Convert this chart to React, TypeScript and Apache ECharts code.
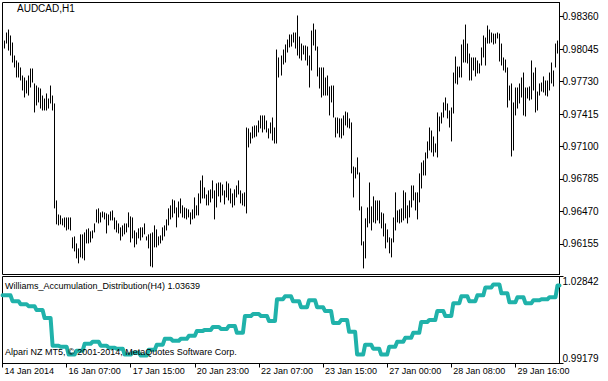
import React, { useEffect, useRef } from "react";
import * as echarts from "echarts";

// H1 bar highs / lows (AUDCAD), one entry per hourly bar
const barHigh = [
  0.98127,0.98205,0.98234,0.98176,0.98108,0.97982,0.97934,0.97914,0.97866,0.97788,
  0.97769,0.97740,0.97788,0.97856,0.97856,0.97711,0.97691,0.97672,0.97662,0.97594,
  0.97565,0.97614,0.97565,0.97691,0.97594,0.97517,0.96577,0.96441,0.96432,0.96403,
  0.96412,0.96412,0.96412,0.96412,0.96219,0.96228,0.96160,0.96112,0.96248,0.96248,
  0.96267,0.96296,0.96306,0.96277,0.96286,0.96354,0.96490,0.96500,0.96461,0.96470,
  0.96461,0.96451,0.96441,0.96470,0.96480,0.96412,0.96383,0.96354,0.96316,0.96335,
  0.96354,0.96354,0.96461,0.96422,0.96412,0.96286,0.96267,0.96306,0.96316,0.96316,
  0.96354,0.96228,0.96248,0.96257,0.96267,0.96335,0.96296,0.96228,0.96238,0.96316,
  0.96335,0.96393,0.96500,0.96529,0.96587,0.96577,0.96509,0.96567,0.96596,0.96529,
  0.96509,0.96500,0.96490,0.96461,0.96490,0.96606,0.96529,0.96645,0.96771,0.96819,
  0.96703,0.96635,0.96674,0.96684,0.96771,0.96674,0.96742,0.96751,0.96751,0.96732,
  0.96674,0.96761,0.96742,0.96693,0.96645,0.96684,0.96722,0.96771,0.96674,0.96645,
  0.96655,0.97284,0.97275,0.97236,0.97294,0.97304,0.97304,0.97352,0.97401,0.97401,
  0.97401,0.97352,0.97275,0.97333,0.97381,0.97284,0.98040,0.97963,0.97982,0.98040,
  0.98089,0.98137,0.98186,0.98186,0.98205,0.98205,0.98370,0.98166,0.98098,0.98079,
  0.98079,0.98069,0.97982,0.98224,0.98292,0.98234,0.98069,0.97866,0.97866,0.97866,
  0.97769,0.97788,0.97682,0.97691,0.97691,0.97381,0.97381,0.97372,0.97372,0.97401,
  0.97439,0.97430,0.97372,0.97333,0.96906,0.96897,0.96994,0.96848,0.96519,0.96180,
  0.96403,0.96509,0.96751,0.96519,0.96616,0.96577,0.96577,0.96577,0.96461,0.96451,
  0.96354,0.96296,0.96219,0.96209,0.96412,0.96655,0.96480,0.96490,0.96500,0.96674,
  0.96655,0.96529,0.96577,0.96722,0.96722,0.96655,0.96655,0.96839,0.96945,0.96965,
  0.97042,0.97149,0.97284,0.97255,0.97197,0.97129,0.97430,0.97391,0.97430,0.97527,
  0.97575,0.97517,0.97449,0.97478,0.97817,0.97972,0.97875,0.97875,0.98089,0.98137,
  0.98282,0.98098,0.98001,0.97963,0.97963,0.97963,0.97934,0.97905,0.98060,0.98176,
  0.98156,0.98273,0.98234,0.98205,0.98195,0.98195,0.98205,0.98195,0.98098,0.97963,
  0.97943,0.97866,0.97691,0.97711,0.97527,0.97672,0.97672,0.97711,0.97769,0.97817,
  0.97672,0.97672,0.97682,0.97934,0.97817,0.97866,0.97633,0.97711,0.97720,0.97779,
  0.97740,0.97740,0.97817,0.97914,0.97837,0.98098,0.98127,0.98311,
];

const barLow = [
  0.98050,0.98098,0.98030,0.97982,0.97914,0.97866,0.97769,0.97769,0.97740,0.97643,
  0.97575,0.97614,0.97594,0.97672,0.97720,0.97430,0.97498,0.97527,0.97468,0.97449,
  0.97449,0.97449,0.97468,0.97517,0.97449,0.96500,0.96345,0.96335,0.96345,0.96335,
  0.96316,0.96286,0.96296,0.96286,0.96112,0.96083,0.96015,0.95967,0.96025,0.96015,
  0.95996,0.96160,0.96160,0.96170,0.96209,0.96267,0.96364,0.96354,0.96364,0.96412,
  0.96393,0.96257,0.96335,0.96383,0.96383,0.96296,0.96267,0.96257,0.96189,0.96228,
  0.96248,0.96267,0.96316,0.96170,0.96209,0.96122,0.96151,0.96209,0.96189,0.96219,
  0.96248,0.96189,0.96112,0.95938,0.95928,0.96122,0.96122,0.96141,0.96160,0.96189,
  0.96228,0.96286,0.96335,0.96393,0.96412,0.96451,0.96316,0.96412,0.96451,0.96412,
  0.96403,0.96393,0.96412,0.96345,0.96393,0.96403,0.96432,0.96432,0.96548,0.96596,
  0.96596,0.96529,0.96529,0.96558,0.96596,0.96393,0.96509,0.96616,0.96558,0.96625,
  0.96538,0.96606,0.96577,0.96548,0.96509,0.96529,0.96606,0.96635,0.96548,0.96529,
  0.96519,0.96451,0.97091,0.97129,0.97178,0.97188,0.97197,0.97236,0.97275,0.97236,
  0.97265,0.97236,0.97178,0.97226,0.97158,0.97129,0.97129,0.97769,0.97788,0.97895,
  0.97914,0.98011,0.98060,0.98069,0.98108,0.98050,0.97982,0.97953,0.97934,0.97992,
  0.97934,0.97885,0.97672,0.97837,0.98079,0.98030,0.97779,0.97662,0.97575,0.97594,
  0.97594,0.97594,0.97401,0.97527,0.97381,0.97188,0.97226,0.97188,0.97178,0.97207,
  0.97304,0.97284,0.97275,0.96839,0.96606,0.96790,0.96829,0.96480,0.96141,0.95918,
  0.96015,0.96316,0.96354,0.96286,0.96364,0.96354,0.96383,0.96354,0.96306,0.96228,
  0.96112,0.96170,0.96064,0.96025,0.96170,0.96286,0.96364,0.96354,0.96364,0.96383,
  0.96403,0.96354,0.96412,0.96509,0.96577,0.96480,0.96393,0.96558,0.96693,0.96819,
  0.96819,0.96984,0.97061,0.97042,0.97003,0.97042,0.96994,0.97246,0.97323,0.97381,
  0.97449,0.97372,0.97284,0.97149,0.97420,0.97711,0.97701,0.97769,0.97769,0.97914,
  0.97914,0.97905,0.97740,0.97740,0.97837,0.97779,0.97808,0.97808,0.97885,0.97963,
  0.97885,0.98098,0.98098,0.98108,0.98089,0.98098,0.98147,0.97924,0.97885,0.97837,
  0.97817,0.97478,0.97546,0.97003,0.97061,0.97401,0.97468,0.97517,0.97575,0.97401,
  0.97391,0.97565,0.97546,0.97556,0.97643,0.97430,0.97449,0.97594,0.97633,0.97624,
  0.97594,0.97585,0.97643,0.97711,0.97682,0.97866,0.98001,0.98098,
];

// Williams A/D computed on H4, one value per 4 hourly bars
const adH4 = [
  1.02051,1.01801,1.01676,1.01593,1.01427,1.01094,0.99928,0.99886,0.99553,0.99720,
  1.00011,1.00094,0.99928,0.99845,0.99803,0.99553,0.99636,0.99512,0.99761,0.99970,
  1.00219,1.00136,1.00219,1.00344,1.00552,1.00594,1.00719,1.00636,1.00760,1.00469,
  1.01177,1.01260,1.01177,1.00969,1.01885,1.02009,1.01801,1.01551,1.01843,1.01551,
  1.01385,1.00885,1.01010,1.00511,0.99553,0.99970,0.99803,0.99553,0.99886,1.00094,
  1.00261,1.00469,1.00927,1.01010,1.01385,1.01177,1.01718,1.02009,1.01801,1.02051,
  1.02384,1.02509,1.02134,1.01760,1.01968,1.01718,1.01843,1.01885,1.01968,1.02467,
];

const priceTicks = [0.96155, 0.9647, 0.96785, 0.971, 0.97415, 0.9773, 0.98045, 0.9836];
const priceMin = 0.95859;
const priceMax = 0.98496;
const adMax = 1.02842;
const adMin = 0.99179;

const xTickIndex = [0, 32, 64, 96, 128, 160, 192, 224, 256];
const xTickLabels = [
  "14 Jan 2014", "16 Jan 07:00", "17 Jan 15:00", "20 Jan 23:00", "22 Jan 07:00",
  "23 Jan 15:00", "27 Jan 00:00", "28 Jan 08:00", "29 Jan 16:00",
];

const FONT = "Liberation Sans";

export default function App() {
  const ref = useRef<HTMLDivElement>(null);

  useEffect(() => {
    if (!ref.current) return;
    const chart = echarts.init(ref.current, null, { renderer: "svg" });

    const nCat = barHigh.length + 1;
    const categories: string[] = [];
    for (let j = 0; j < nCat; j++) {
      const t = xTickIndex.indexOf(j);
      categories.push(t >= 0 ? xTickLabels[t] : "c" + j);
    }
    const isTick = (idx: number) => xTickIndex.indexOf(idx) >= 0;

    const barData = barHigh.map((h, i) => [i + 1, h, barLow[i]]);
    const adLine: number[] = [];
    for (let j = 0; j < nCat; j++) {
      const i = Math.max(0, j - 1);
      adLine.push(adH4[Math.floor(i / 4)]);
    }

    const option: any = {
      animation: false,
      backgroundColor: "#fff",
      textStyle: { fontFamily: FONT },
      grid: [
        { left: 2.5, right: 48.5, top: 2.5, height: 272, show: true, borderColor: "#000", borderWidth: 1 },
        { left: 2.5, right: 48.5, top: 276.5, height: 87, show: true, borderColor: "#000", borderWidth: 1 },
      ],
      xAxis: [
        {
          gridIndex: 0, type: "category", data: categories, boundaryGap: false,
          axisLine: { show: false }, axisTick: { show: false }, axisLabel: { show: false },
          splitLine: { show: false },
        },
        {
          gridIndex: 1, type: "category", data: categories, boundaryGap: false,
          axisLine: { show: true, lineStyle: { color: "#000" } },
          axisTick: { show: true, length: 4, interval: (idx: number) => isTick(idx), lineStyle: { color: "#000" } },
          axisLabel: {
            show: true, interval: (idx: number) => isTick(idx), align: "left",
            fontSize: 9, fontFamily: FONT, color: "#000", margin: 3, padding: [0, 0, 0, 2],
          },
          splitLine: { show: false },
        },
      ],
      yAxis: [
        {
          gridIndex: 0, type: "value", position: "right", min: priceMin, max: priceMax,
          axisLine: { show: true, lineStyle: { color: "#000" } },
          axisTick: { show: true, length: 4, customValues: priceTicks, lineStyle: { color: "#000" } },
          axisLabel: {
            customValues: priceTicks, formatter: (v: number) => v.toFixed(5),
            fontSize: 10, fontFamily: FONT, color: "#000", margin: 3,
          },
          splitLine: { show: false },
        },
        {
          gridIndex: 1, type: "value", position: "right", min: adMin, max: adMax,
          axisLine: { show: true, lineStyle: { color: "#000" } },
          axisTick: { show: true, length: 4, customValues: [adMax], lineStyle: { color: "#000" } },
          axisLabel: {
            customValues: [adMax], formatter: (v: number) => v.toFixed(5), verticalAlign: "top",
            fontSize: 10, fontFamily: FONT, color: "#000", margin: 3,
          },
          splitLine: { show: false },
        },
        {
          gridIndex: 1, type: "value", position: "right", min: adMin, max: adMax,
          axisLine: { show: false },
          axisTick: { show: true, length: 4, customValues: [adMin], lineStyle: { color: "#000" } },
          axisLabel: {
            customValues: [adMin], formatter: (v: number) => v.toFixed(5), verticalAlign: "bottom",
            fontSize: 10, fontFamily: FONT, color: "#000", margin: 3,
          },
          splitLine: { show: false },
        },
      ],
      graphic: [
        { type: "text", x: 17, y: 8, silent: true, style: { text: "AUDCAD,H1", fontSize: 10, fontFamily: FONT, fill: "#000", verticalAlign: "middle" } },
        { type: "text", x: 5, y: 285.5, silent: true, z: 10, style: { text: "Williams_Accumulation_Distribution(H4) 1.03639", fontSize: 9, fontFamily: FONT, fill: "#000", verticalAlign: "middle" } },
        { type: "text", x: 5, y: 352, silent: true, z: 10, style: { text: "Alpari NZ MT5, © 2001-2014, MetaQuotes Software Corp.", fontSize: 9, fontFamily: FONT, fill: "#000", verticalAlign: "middle" } },
      ],
      series: [
        {
          type: "custom", xAxisIndex: 0, yAxisIndex: 0, clip: true, silent: true,
          encode: { x: 0, y: [1, 2] },
          data: barData,
          renderItem: (params: any, api: any) => {
            const x = api.value(0);
            const p1 = api.coord([x, api.value(1)]);
            const p2 = api.coord([x, api.value(2)]);
            const px = Math.floor(p1[0]) + 0.5;
            return {
              type: "line",
              shape: { x1: px, y1: p1[1], x2: px, y2: p2[1] },
              style: { stroke: "#000", lineWidth: 1 },
            };
          },
        },
        {
          type: "line", xAxisIndex: 1, yAxisIndex: 1, data: adLine, showSymbol: false, silent: true,
          lineStyle: { color: "#20B2AA", width: 4, join: "round", cap: "round" },
        },
      ],
    };

    chart.setOption(option);
    return () => chart.dispose();
  }, []);

  return <div ref={ref} style={{ position: "absolute", left: 0, top: 0, width: 608, height: 381 }} />;
}
